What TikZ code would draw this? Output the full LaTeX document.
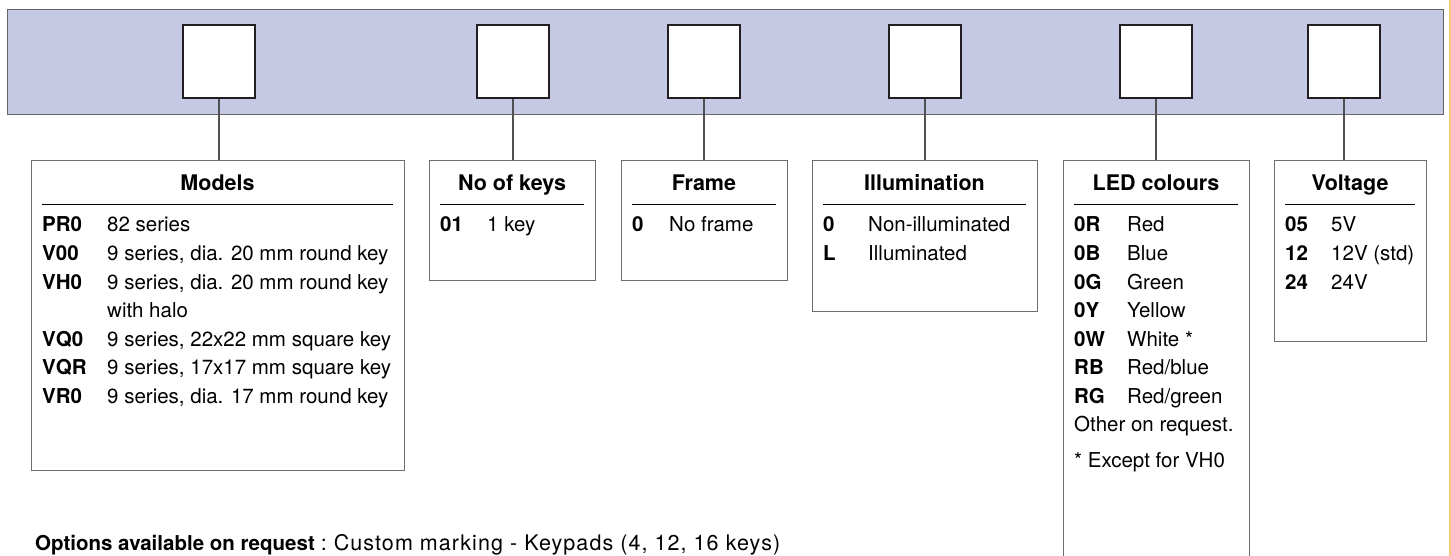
\documentclass[tikz,border=0pt]{standalone}
\usepackage{fontspec}
\setmainfont{TeX Gyre Heros}
\definecolor{bandc}{RGB}{197,201,227}
\definecolor{bandl}{RGB}{100,100,100}
\definecolor{sqc}{RGB}{35,31,32}
\definecolor{boxc}{RGB}{110,110,110}
\definecolor{lnc}{RGB}{80,80,80}
\definecolor{orangec}{RGB}{249,200,125}
\newcommand\myfs{\fontsize{20.5}{24}\selectfont}
\newcommand\myhfs{\fontsize{21.5}{24}\selectfont}
\begin{document}
\begin{tikzpicture}[x=1pt,y=-1pt,
  sq/.style={draw=sqc,line width=2.6pt,fill=white,minimum width=72pt,minimum height=73pt,inner sep=0pt},
  infobox/.style={draw=boxc,line width=1.1pt,anchor=north west,inner sep=0pt},
  hdr/.style={font=\myhfs\bfseries,anchor=base,inner sep=0pt},
  code/.style={font=\myfs\bfseries,anchor=base west,inner sep=0pt},
  desc/.style={font=\myfs,anchor=base west,inner sep=0pt},
  conn/.style={draw=lnc,line width=1.1pt},
  rulel/.style={draw=black,line width=1pt}]
\useasboundingbox (0,0) rectangle (1451,556);
\clip (0,0) rectangle (1451,556);
% band
\node[draw=bandl,fill=bandc,line width=1.2pt,anchor=north west,minimum width=1436pt,minimum height=105pt,inner sep=0pt] (band) at (7,9) {};
% squares
\node[sq] (s1) at (219,61.5) {};
\node[sq] (s2) at (513,61.5) {};
\node[sq] (s3) at (704,61.5) {};
\node[sq] (s4) at (925,61.5) {};
\node[sq] (s5) at (1156,61.5) {};
\node[sq] (s6) at (1344,61.5) {};
% boxes
\node[infobox,minimum width=373pt,minimum height=310pt] (b1) at (31,160) {};
\node[infobox,minimum width=166pt,minimum height=120pt] (b2) at (429,160) {};
\node[infobox,minimum width=166pt,minimum height=120pt] (b3) at (621,160) {};
\node[infobox,minimum width=225pt,minimum height=151pt] (b4) at (812,160) {};
\node[infobox,minimum width=186pt,minimum height=440pt] (b5) at (1063,160) {};
\node[infobox,minimum width=152pt,minimum height=181pt] (b6) at (1274,160) {};
% connectors
\draw[conn] (s1.south) -- (s1.south |- b1.north);
\draw[conn] (s2.south) -- (s2.south |- b2.north);
\draw[conn] (s3.south) -- (s3.south |- b3.north);
\draw[conn] (s4.south) -- (s4.south |- b4.north);
\draw[conn] (s5.south) -- (s5.south |- b5.north);
\draw[conn] (s6.south) -- (s6.south |- b6.north);
% headers
\node[hdr] (h1) at (217.5,190.5) {Models};
\node[hdr] (h2) at (512,190.5) {No of keys};
\node[hdr] (h3) at (704,190.5) {Frame};
\node[hdr] (h4) at (924.5,190.5) {Illumination};
\node[hdr] (h5) at (1156,190.5) {LED colours};
\node[hdr] (h6) at (1350,190.5) {Voltage};
% rules
\draw[rulel] (42,205) -- (393,205);
\draw[rulel] (440,205) -- (584,205);
\draw[rulel] (632,205) -- (776,205);
\draw[rulel] (823,205) -- (1026,205);
\draw[rulel] (1074,205) -- (1238,205);
\draw[rulel] (1285,205) -- (1415,205);
% Models rows
\node[code] (m1c) at (42,232) {PR0};   \node[desc] (m1d) at (107,232) {82 series};
\node[code] (m2c) at (42,260.5) {V00}; \node[desc] (m2d) at (107,260.5) {9 series, dia. 20 mm round key};
\node[code] (m3c) at (42,289) {VH0};   \node[desc] (m3d) at (107,289) {9 series, dia. 20 mm round key};
\node[desc] (m3e) at (107,317.5) {with halo};
\node[code] (m4c) at (42,346) {VQ0};   \node[desc] (m4d) at (107,346) {9 series, 22x22 mm square key};
\node[code] (m5c) at (42,374.5) {VQR}; \node[desc] (m5d) at (107,374.5) {9 series, 17x17 mm square key};
\node[code] (m6c) at (42,403) {VR0};   \node[desc] (m6d) at (107,403) {9 series, dia. 17 mm round key};
% No of keys
\node[code] (k1c) at (440,232) {01}; \node[desc] (k1d) at (487,232) {1 key};
% Frame
\node[code] (f1c) at (632,232) {0}; \node[desc] (f1d) at (669,232) {No frame};
% Illumination
\node[code] (i1c) at (823,232) {0}; \node[desc] (i1d) at (868,232) {Non-illuminated};
\node[code] (i2c) at (823,260.5) {L}; \node[desc] (i2d) at (868,260.5) {Illuminated};
% LED colours
\node[code] (l1c) at (1074,232) {0R};   \node[desc] (l1d) at (1127,232) {Red};
\node[code] (l2c) at (1074,260.5) {0B}; \node[desc] (l2d) at (1127,260.5) {Blue};
\node[code] (l3c) at (1074,289) {0G};   \node[desc] (l3d) at (1127,289) {Green};
\node[code] (l4c) at (1074,317.5) {0Y}; \node[desc] (l4d) at (1127,317.5) {Yellow};
\node[code] (l5c) at (1074,346) {0W};   \node[desc] (l5d) at (1127,346) {White *};
\node[code] (l6c) at (1074,374.5) {RB}; \node[desc] (l6d) at (1127,374.5) {Red/blue};
\node[code] (l7c) at (1074,403) {RG};   \node[desc] (l7d) at (1127,403) {Red/green};
\node[desc] (l8) at (1074,431) {Other on request.};
\node[desc] (l9) at (1074,467) {* Except for VH0};
% Voltage
\node[code] (v1c) at (1285,232) {05};   \node[desc] (v1d) at (1331,232) {5V};
\node[code] (v2c) at (1285,260.5) {12}; \node[desc] (v2d) at (1331,260.5) {12V (std)};
\node[code] (v3c) at (1285,289) {24};   \node[desc] (v3d) at (1331,289) {24V};
% options line
\node[anchor=base west,inner sep=0pt] (opt) at (35,550.5) {{\fontsize{20.5}{22}\selectfont\bfseries Options available on request}\hspace{6pt}{\fontsize{21.5}{24}\selectfont\addfontfeature{LetterSpace=5}:\hspace{7pt}Custom marking - Keypads (4, 12, 16 keys)}};
% orange edge
\draw[orangec,line width=2pt] (1449.5,0) -- (1449.5,556);
\end{tikzpicture}
\end{document}
